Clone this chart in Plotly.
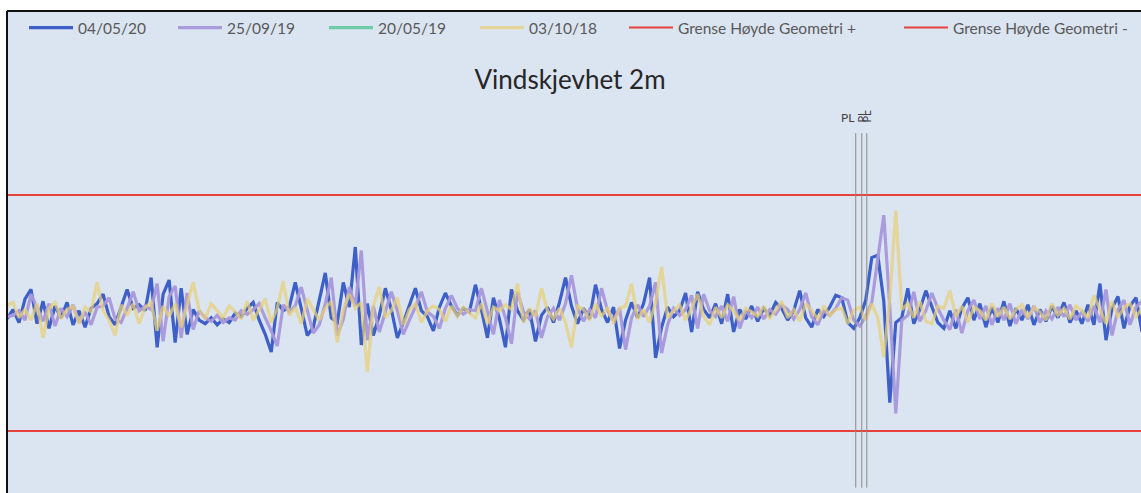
import plotly.graph_objects as go

# ---- data (limit lines at +/-10) ----
blue_0405_20 = [
    -0.5, 0.3, -0.8, 1.2, 2.0, -0.9, 1.0, -1.3, 0.6, -0.4,
    0.9, -1.0, 0.2, -1.2, 0.4, 0.8, 1.6, -0.3, -1.0, 0.5,
    2.0, 0.4, 0.7, 0.2, 3.0, -2.9, 1.6, 2.8, -2.5, 2.1,
    -1.8, 0.3, -0.6, -0.9, -0.4, -1.0, -0.5, -0.8, 0.0, -0.3,
    0.4, 0.9, -0.6, -1.8, -3.3, 0.9, 0.2, 0.5, 2.6, 0.4,
    -1.9, -1.2, 1.0, 3.4, -0.4, -0.8, 2.6, 0.5, 5.6, -2.7,
    0.8, -1.9, -0.2, 2.1, 0.3, -2.1, -0.8, 0.6, 2.1, 0.2,
    -0.3, -1.5, 0.5, 1.7, 0.6, -0.2, 0.4, 0.1, 2.4, 0.3,
    -2.1, 1.3, -0.5, -2.9, 2.0, 0.2, -0.6, 0.3, -2.4, -0.2,
    0.5, -0.8, 0.9, 3.0, 0.6, -0.9, 0.4, -0.5, 2.4, 0.3,
    -0.8, 0.5, -3.0, -0.6, 0.9, -0.4, 0.8, 3.0, -3.8, -1.2,
    0.5, -0.3, 0.2, 1.7, -1.6, 1.8, 0.3, -0.4, 0.8, -0.9,
    1.6, -1.6, 0.3, -0.5, 0.6, -0.7, 0.4, -0.2, 0.9, 0.4,
    -0.6, 0.2, 1.9, -0.4, -1.2, 0.3, -0.3, 0.5, 1.5, 1.3,
    -0.8, -1.3, -0.4, 1.1, 4.7, 4.9, 1.0, -7.6, -0.8, -0.4,
    2.1, -0.9, 0.3, 1.9, 0.6, -0.8, -1.3, 0.2, -1.3, 0.4,
    1.3, -0.6, 0.8, -1.2, 0.5, -0.8, 1.0, -1.1, 0.4, -0.6,
    0.7, -1.0, 0.3, -0.7, 0.6, -0.4, 0.9, -0.8, 0.2, -0.9,
    0.7, -1.0, 2.5, -2.3, 0.4, 1.4, -1.3, 0.6, 1.3, -1.6,
]
purple_2509_19 = [
    -0.3, -0.2, 0.2, -0.6, 1.6, 0.5, -0.7, 0.8, -1.1, 0.4,
    -0.3, 0.7, -0.8, 0.1, -1.0, 0.5, 0.6, 1.3, -0.5, -0.8,
    0.4, 1.8, 0.2, 0.6, 0.3, 2.5, -2.4, 1.4, 2.3, -2.1,
    1.7, -1.4, 0.2, -0.4, -0.7, -0.2, -0.8, -0.4, -0.6, 0.2,
    -0.1, 0.3, 0.8, -0.4, -1.5, -2.8, 0.7, 0.1, 0.6, 2.2,
    0.2, -1.7, -1.0, 0.8, 3.0, -1.9, -0.5, 2.2, 0.6, 5.3,
    -2.3, 0.6, -1.6, 0.0, 1.8, 0.2, -1.8, -0.6, 0.5, 1.8,
    0.1, -0.3, -1.3, 0.4, 1.5, 0.4, -0.1, 0.3, 0.2, 2.1,
    0.2, -1.8, 1.1, -0.4, -2.6, 1.8, 0.1, -0.5, 0.2, -2.1,
    -0.3, 0.4, -0.6, 0.8, 3.2, 0.4, -0.7, 0.3, -0.4, 2.1,
    0.2, -0.6, 0.4, -3.1, -0.4, 0.7, -0.3, 0.6, 2.6, -3.4,
    -1.0, 0.4, -0.2, 0.3, 1.5, -1.3, 1.6, 0.2, -0.3, 0.6,
    -0.7, 1.4, -1.3, 0.2, -0.4, 0.5, -0.5, 0.3, -0.1, 0.7,
    0.3, -0.5, 0.3, 1.7, -0.3, -1.0, 0.2, -0.2, 0.4, 1.3,
    1.1, -0.6, -1.1, -0.3, 0.9, 4.4, 8.3, 0.5, -8.5, -0.6,
    -0.2, 1.8, -0.7, 0.2, 1.7, 0.4, -0.6, -1.4, 0.3, -1.7,
    0.2, 1.1, -0.5, 0.6, -1.0, 0.4, -0.6, 0.8, -0.9, 0.3,
    -0.5, 0.6, -0.8, 0.2, -0.5, 0.5, -0.3, 0.7, -0.6, 0.1,
    -0.7, 0.6, -0.8, 2.0, -1.9, 0.3, 1.1, -1.0, 0.5, 1.0,
]
green_2005_19 = [None]  # series listed in legend, no visible values
yellow_0310_18 = [
    0.6, 0.9, -0.4, 0.3, -0.6, 0.8, -2.1, 0.4, 0.9, -0.5,
    0.3, 0.6, -0.9, 0.5, 0.1, 2.6, 0.2, -0.6, -1.9, 0.7,
    -0.2, 0.8, -0.9, 0.5, 0.9, -1.5, 0.6, -0.3, 0.8, -1.2,
    0.7, 2.6, 0.3, -0.5, 0.8, 0.2, -0.4, 0.6, 0.1, -0.5,
    1.0, -0.6, 0.3, 1.2, -0.8, 0.4, 2.7, -0.2, 0.5, -0.9,
    1.2, 0.3, -0.6, 0.4, 1.0, -2.5, 0.3, 1.6, 0.4, 0.9,
    -5.0, 0.6, 2.2, -0.4, 0.2, 1.3, -1.0, 0.3, 0.8, -0.8,
    0.2, 0.6, 0.3, -0.7, 0.6, -0.3, 0.5, 0.0, -0.4, 0.8,
    -0.9, 0.5, 0.2, 0.7, 0.3, 2.5, -0.8, 0.4, -0.3, 2.1,
    0.2, -0.5, 0.4, -0.8, -2.9, 0.6, 0.3, -0.6, 0.8, -0.3,
    0.5, -0.9, 0.4, 0.6, 2.5, -0.5, 0.3, -0.8, 0.9, 3.9,
    -0.4, 0.2, 0.7, -0.6, 0.4, 1.6, -0.3, -1.0, 0.5, -0.4,
    0.7, 0.2, -0.6, 0.4, 0.1, -0.3, 0.6, -0.5, 0.2, 1.0,
    -0.4, 0.3, -0.7, 0.8, 0.2, -0.5, 0.6, -0.2, 0.3, 0.4,
    -0.9, 0.2, 0.5, -0.6, 0.8, -0.4, -3.7, 1.2, 8.7, 0.3,
    0.8, -0.4, 1.0, -0.7, -0.9, 0.6, 0.4, 1.9, -0.3, 0.6,
    -0.8, 0.5, 0.2, -0.6, 0.8, -0.3, 0.5, -0.5, 0.3, 0.7,
    -0.4, 0.5, 0.1, -0.6, 0.8, -0.2, 0.4, -0.5, 0.6, 0.2,
    -0.4, 1.5, 0.3, -0.9, 1.0, -0.4, 0.5, 0.8, -0.3, 0.4,
]
limit_plus = [10, 10]
limit_minus = [-10, -10]
marker_positions = [141.33, 142.33, 143.17]
marker_labels = ["PL", "PL", "PL"]

positions = list(range(len(blue_0405_20)))
limit_x = [positions[0], positions[-1]]

FONT = "Lato, 'Open Sans', sans-serif"
fig = go.Figure()

series = [
    ("04/05/20", blue_0405_20, "#3d5fc8", 90),
    ("25/09/19", purple_2509_19, "rgba(168,152,218,0.95)", 92),
    ("20/05/19", green_2005_19, "#6fcaa8", 92),
    ("03/10/18", yellow_0310_18, "rgba(232,206,118,0.72)", 90),
]
for name, vals, col, lw in series:
    fig.add_trace(go.Scatter(
        x=positions[:len(vals)], y=vals, mode="lines", name=name,
        line=dict(color=col, width=3.2), legendwidth=lw,
    ))

fig.add_trace(go.Scatter(x=limit_x, y=limit_plus, mode="lines",
                         name="Grense Høyde Geometri +",
                         line=dict(color="#e8403c", width=2), legendwidth=216))
fig.add_trace(go.Scatter(x=limit_x, y=limit_minus, mode="lines",
                         name="Grense Høyde Geometri -",
                         line=dict(color="#e8403c", width=2), legendwidth=178))

for xp in marker_positions:
    fig.add_shape(type="line", xref="x", yref="y", x0=xp, x1=xp,
                  y0=15.25, y1=-14.8, line=dict(color="#8a8a8a", width=1))

fig.add_annotation(x=marker_positions[0], y=16.6, xref="x", yref="y",
                   text=marker_labels[0], showarrow=False, xanchor="right",
                   font=dict(family=FONT, size=12, color="#404040"))
for xp, lab in zip(marker_positions[1:], marker_labels[1:]):
    fig.add_annotation(x=xp, y=16.0, xref="x", yref="y", text=lab,
                       showarrow=False, textangle=-90, yanchor="bottom",
                       font=dict(family=FONT, size=11, color="#404040"))

# chart frame (left and top border)
fig.add_shape(type="line", xref="paper", yref="paper", x0=0, x1=1, y0=1, y1=1,
              line=dict(color="#111111", width=2))
fig.add_shape(type="line", xref="paper", yref="paper", x0=0, x1=0, y0=0, y1=1,
              line=dict(color="#111111", width=2))

fig.update_layout(
    width=1141, height=493,
    margin=dict(l=7, r=0, t=11, b=0),
    paper_bgcolor="white",
    plot_bgcolor="#dbe4f1",
    title=dict(text="Vindskjevhet 2m", x=570 / 1141, xanchor="center",
               yref="container", y=1 - 80 / 493, yanchor="middle",
               font=dict(family=FONT, size=26, color="#262626")),
    showlegend=True,
    legend=dict(orientation="h", x=17 / 1134, xanchor="left",
                y=1 - 17 / 482, yanchor="middle",
                bgcolor="rgba(0,0,0,0)", font=dict(family=FONT, size=15.5, color="#595959"),
                itemwidth=44, tracegroupgap=0),
    xaxis=dict(range=[0, 188.83], visible=False, fixedrange=True),
    yaxis=dict(range=[-15.25, 25.6], visible=False, fixedrange=True),
)

fig.write_html("out.html", config={"displayModeBar": False},
               post_script="document.body.style.margin='0';")
